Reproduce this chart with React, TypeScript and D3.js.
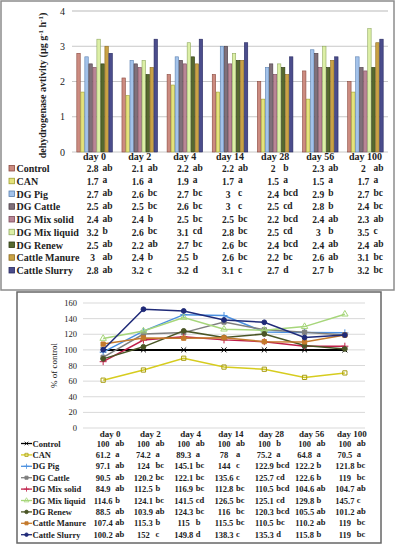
import React from "react";
import * as d3 from "d3";

const days = ["day 0", "day 2", "day 4", "day 14", "day 28", "day 56", "day 100"];
const seriesNames = [
  "Control", "CAN", "DG Pig", "DG Cattle", "DG Mix solid",
  "DG Mix liquid", "DG Renew", "Cattle Manure", "Cattle Slurry",
];

// Dehydrogenase activity (µg g-1 h-1)
const actControl = [2.8, 2.1, 2.2, 2.2, 2, 2.3, 2];
const actCAN = [1.7, 1.6, 1.9, 1.7, 1.5, 1.5, 1.7];
const actPig = [2.7, 2.6, 2.7, 3, 2.4, 2.9, 2.7];
const actCattle = [2.5, 2.5, 2.6, 3, 2.5, 2.8, 2.4];
const actMixSolid = [2.4, 2.4, 2.5, 2.5, 2.2, 2.4, 2.3];
const actMixLiquid = [3.2, 2.6, 3.1, 2.8, 2.5, 3, 3.5];
const actRenew = [2.5, 2.2, 2.7, 2.6, 2.4, 2.4, 2.4];
const actManure = [3, 2.4, 2.5, 2.6, 2.2, 2.6, 3.1];
const actSlurry = [2.8, 3.2, 3.2, 3.1, 2.7, 2.7, 3.2];
const activity = [actControl, actCAN, actPig, actCattle, actMixSolid, actMixLiquid, actRenew, actManure, actSlurry];

const actLetters = [
  ["ab", "ab", "ab", "ab", "b", "ab", "ab"],
  ["a", "a", "a", "a", "a", "a", "a"],
  ["ab", "bc", "bc", "c", "bcd", "b", "bc"],
  ["ab", "bc", "bc", "c", "cd", "b", "bc"],
  ["ab", "b", "bc", "bc", "bcd", "ab", "ab"],
  ["b", "bc", "cd", "bc", "cd", "b", "c"],
  ["ab", "ab", "bc", "bc", "bcd", "ab", "ab"],
  ["ab", "b", "b", "bc", "bc", "ab", "bc"],
  ["ab", "c", "d", "c", "d", "b", "bc"],
];

// % of control
const pctControl = [100, 100, 100, 100, 100, 100, 100];
const pctCAN = [61.2, 74.2, 89.3, 78, 75.2, 64.8, 70.5];
const pctPig = [97.1, 124, 145.1, 144, 122.9, 122.2, 121.8];
const pctCattle = [90.5, 120.2, 122.1, 135.6, 125.7, 122.6, 119];
const pctMixSolid = [84.9, 112.5, 116.9, 112.8, 110.5, 104.6, 104.7];
const pctMixLiquid = [114.6, 124.1, 141.5, 126.5, 125.1, 129.8, 145.7];
const pctRenew = [88.5, 103.9, 124.3, 116, 120.3, 105.5, 101.2];
const pctManure = [107.4, 115.3, 115, 115.5, 110.5, 110.2, 119];
const pctSlurry = [100.2, 152, 149.8, 138.3, 135.3, 115.8, 119];
const percent = [pctControl, pctCAN, pctPig, pctCattle, pctMixSolid, pctMixLiquid, pctRenew, pctManure, pctSlurry];

const pctLetters = [
  ["ab", "ab", "ab", "ab", "b", "ab", "ab"],
  ["a", "a", "a", "a", "a", "a", "a"],
  ["ab", "bc", "bc", "c", "bcd", "b", "bc"],
  ["ab", "bc", "bc", "c", "cd", "b", "bc"],
  ["ab", "b", "bc", "bc", "bcd", "ab", "ab"],
  ["b", "bc", "cd", "bc", "cd", "b", "c"],
  ["ab", "ab", "bc", "bc", "bcd", "ab", "ab"],
  ["ab", "b", "b", "bc", "bc", "ab", "bc"],
  ["ab", "c", "d", "c", "d", "b", "bc"],
];

const actTicks = [0, 1, 2, 3, 4];
const pctTicks = [0, 20, 40, 60, 80, 100, 120, 140, 160];

const barFill = ["#cc8b80", "#e4e27c", "#a3c2ea", "#80707a", "#b98696", "#dcefa6", "#56692e", "#c9a245", "#4b4d8c"];
const barStroke = ["#8a4a40", "#a0a030", "#5a80b0", "#4a3e46", "#7a4a5a", "#90a860", "#2e3a14", "#8a6a20", "#262860"];
const lineColor = ["#000000", "#d6cc1e", "#4b90e0", "#7f7f7f", "#c0204a", "#a6d67a", "#4a5526", "#c47a2c", "#1f2a78"];
const markerTypes = [d3.symbolTimes, d3.symbolSquare, d3.symbolPlus, d3.symbolSquare, d3.symbolPlus, d3.symbolTriangle, d3.symbolCircle, d3.symbolSquare, d3.symbolCircle];

const FONT = "'Liberation Serif', serif";

export default function App() {
  const yA = d3.scaleLinear().domain([0, 4]).range([152, 11]);
  const xA = d3.scaleBand().domain(days).range([72, 388]).paddingInner(0.2).paddingOuter(0.1);
  const xAInner = d3.scaleBand().domain(seriesNames).range([0, xA.bandwidth()]);
  const groupCenterA = (d: string) => (xA(d) as number) + xA.bandwidth() / 2;
  const rowYA = (i: number) => 172 + i * 12.75;

  const yB = d3.scaleLinear().domain([0, 160]).range([428, 303]);
  const xB = d3.scaleBand().domain(days).range([83, 365]);
  const cB = (d: string) => (xB(d) as number) + xB.bandwidth() / 2;
  const rowYB = (i: number) => 446.5 + i * 11.4;
  const line = d3.line<[number, number]>().x((p) => p[0]).y((p) => p[1]);

  const marker = (type: any, size: number) => d3.symbol().type(type).size(size)() as string;
  const txt = { fontFamily: FONT } as React.CSSProperties;

  return (
    <svg width={398} height={550} style={{ position: "absolute", left: 0, top: 0, background: "#fff", fontFamily: FONT }}>
      <rect x={1} y={1} width={393} height={289} fill="#fff" stroke="#8c8c8c" strokeWidth={1.5} />
      {actTicks.map((t) => (
        <line key={t} x1={72} x2={388} y1={yA(t)} y2={yA(t)} stroke={t === 4 ? "#dcdcdc" : "#c8c8c8"} strokeWidth={t === 4 ? 2 : 1} />
      ))}
      {actTicks.map((t) => (
        <text key={"tl" + t} style={txt} x={65} y={yA(t) + 3.5} fontSize={10} textAnchor="end" fill="#222">{t}</text>
      ))}
      <text style={txt} transform={`translate(46,${(yA(0) + yA(4)) / 2 + 4}) rotate(-90)`} fontSize={10} fontWeight="bold" textAnchor="middle" fill="#222">
        dehydrogenase avtivity (µg g<tspan dy={-3} fontSize={7}>-1</tspan><tspan dy={3}> h</tspan><tspan dy={-3} fontSize={7}>-1</tspan><tspan dy={3}>)</tspan>
      </text>
      {days.map((d, di) => (
        <g key={d} transform={`translate(${xA(d)},0)`}>
          {seriesNames.map((s, si) => (
            <rect key={s} x={(xAInner(s) as number) + 0.3} y={yA(activity[si][di])} width={xAInner.bandwidth() - 0.6}
              height={yA(0) - yA(activity[si][di])} fill={barFill[si]} stroke={barStroke[si]} strokeWidth={0.6} />
          ))}
        </g>
      ))}
      {days.map((d) => (
        <text key={"ha" + d} style={txt} x={groupCenterA(d)} y={160} fontSize={10} fontWeight="bold" textAnchor="middle" fill="#222">{d}</text>
      ))}
      {seriesNames.map((s, si) => (
        <g key={"ra" + s}>
          <rect x={9} y={rowYA(si) - 6.5} width={5.5} height={5.5} fill={barFill[si]} stroke={barStroke[si]} strokeWidth={0.8} />
          <text style={txt} x={16.5} y={rowYA(si)} fontSize={10} fontWeight="bold" fill="#222">{s}</text>
          {days.map((d, di) => (
            <g key={d}>
              <text style={txt} x={groupCenterA(d) - 2} y={rowYA(si)} fontSize={9.5} fontWeight="bold" textAnchor="middle" fill="#222">{activity[si][di]}</text>
              <text style={txt} x={groupCenterA(d) + 8} y={rowYA(si) - 1.5} fontSize={9.5} fontWeight="bold" fill="#222">{actLetters[si][di]}</text>
            </g>
          ))}
        </g>
      ))}

      <rect x={17} y={292} width={364} height={251} fill="#fff" stroke="#666" strokeWidth={1.5} />
      {pctTicks.map((t) => (
        <line key={"gb" + t} x1={83} x2={365} y1={yB(t)} y2={yB(t)} stroke="#d9d9d9" strokeWidth={1} />
      ))}
      {pctTicks.map((t) => (
        <text key={"tb" + t} style={txt} x={77} y={yB(t) + 3} fontSize={8.5} textAnchor="end" fill="#222">{t}</text>
      ))}
      <text style={txt} transform={`translate(57,${yB(80)}) rotate(-90)`} fontSize={9} textAnchor="middle" fill="#222">% of control</text>
      {seriesNames.map((s, si) => (
        <g key={"lb" + s}>
          <path d={line(days.map((d, di) => [cB(d), yB(percent[si][di])])) as string} fill="none"
            stroke={lineColor[si]} strokeWidth={si === 0 ? 2 : 1.5} />
          {days.map((d, di) => (
            <path key={d} transform={`translate(${cB(d)},${yB(percent[si][di])})`} d={marker(markerTypes[si], 18)}
              fill={si === 1 || si === 5 ? "none" : lineColor[si]} stroke={si === 1 ? "#a89e10" : lineColor[si]} strokeWidth={1} />
          ))}
        </g>
      ))}
      {days.map((d) => (
        <text key={"hb" + d} style={txt} x={cB(d) + 7} y={437} fontSize={9} fontWeight="bold" textAnchor="middle" fill="#222">{d}</text>
      ))}
      {seriesNames.map((s, si) => (
        <g key={"rb" + s}>
          <line x1={21} x2={32} y1={rowYB(si) - 3} y2={rowYB(si) - 3} stroke={lineColor[si]} strokeWidth={1.3} />
          <path transform={`translate(26.5,${rowYB(si) - 3})`} d={marker(markerTypes[si], 10)}
            fill={si === 1 || si === 5 ? "none" : lineColor[si]} stroke={si === 1 ? "#a89e10" : lineColor[si]} strokeWidth={0.8} />
          <text style={txt} x={32.5} y={rowYB(si)} fontSize={8.5} fontWeight="bold" fill="#222">{s}</text>
          {days.map((d, di) => (
            <g key={d}>
              <text style={txt} x={cB(d)} y={rowYB(si)} fontSize={8.5} fontWeight="bold" textAnchor="middle" fill="#222">{percent[si][di]}</text>
              <text style={txt} x={cB(d) + 12} y={rowYB(si) - 1} fontSize={8.5} fontWeight="bold" fill="#222">{pctLetters[si][di]}</text>
            </g>
          ))}
        </g>
      ))}
    </svg>
  );
}
